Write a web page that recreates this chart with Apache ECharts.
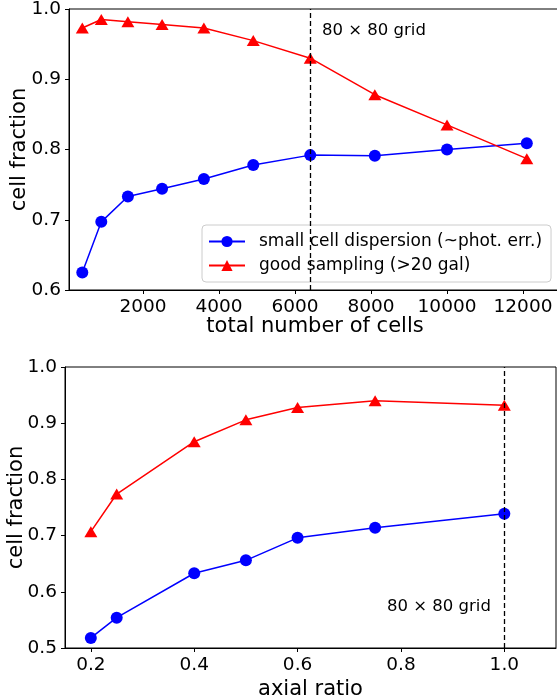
<!DOCTYPE html>
<html><head><meta charset="utf-8">
<script src="https://cdn.jsdelivr.net/npm/echarts@6/dist/echarts.min.js"></script>
<style>html,body{margin:0;padding:0;background:#fff}#c{width:557px;height:700px}</style>
</head><body><div id="c"></div>
<script>
// Top panel data
const cellsX = [400, 900, 1600, 2500, 3600, 4900, 6400, 8100, 10000, 12100];
const cellsDispersion = [0.625, 0.697, 0.733, 0.744, 0.758, 0.778, 0.792, 0.791, 0.800, 0.809];
const cellsSampling = [0.973, 0.985, 0.982, 0.978, 0.973, 0.955, 0.930, 0.878, 0.835, 0.787];
const cellsTicks = [2000, 4000, 6000, 8000, 10000, 12000];
const cellsGridLine = 6400;
// Bottom panel data
const ratioX = [0.2, 0.25, 0.4, 0.5, 0.6, 0.75, 1.0];
const ratioDispersion = [0.518, 0.554, 0.633, 0.656, 0.696, 0.714, 0.739];
const ratioSampling = [0.707, 0.774, 0.867, 0.906, 0.928, 0.940, 0.932];
const ratioTicks = [0.2, 0.4, 0.6, 0.8, 1.0];
const ratioGridLine = 1.0;
const seriesNames = ['small cell dispersion (~phot. err.)', 'good sampling (>20 gal)'];
const gridLabel = '80 × 80 grid';

const FONT = 'DejaVu Sans';
const chart = echarts.init(document.getElementById('c'), null, {renderer: 'canvas'});
const zip = (xs, ys) => xs.map((x, i) => [x, ys[i]]);
const axisCommon = {
  axisLine: {show: true, onZero: false, lineStyle: {color: '#000', width: 1}},
  axisTick: {show: true, length: 4, lineStyle: {color: '#000', width: 1}},
  splitLine: {show: false},
  nameMoveOverlap: false,
  nameTextStyle: {color: '#000', fontFamily: FONT, fontSize: 21}
};
const lbl = {color: '#000', fontFamily: FONT, fontSize: 18.5, margin: 8};
const blueSeries = (xi, data) => ({
  type: 'line', name: seriesNames[0], xAxisIndex: xi, yAxisIndex: xi, data: data,
  symbol: 'circle', symbolSize: 12, color: '#0000ff',
  lineStyle: {color: '#0000ff', width: 1.5}, itemStyle: {color: '#0000ff'}, animation: false, z: 3
});
const redSeries = (xi, data) => ({
  type: 'line', name: seriesNames[1], xAxisIndex: xi, yAxisIndex: xi, data: data,
  symbol: 'triangle', symbolSize: [13, 11], color: '#ff0000',
  lineStyle: {color: '#ff0000', width: 1.5}, itemStyle: {color: '#ff0000'}, animation: false, z: 3
});
const vline = (xi, x) => ({
  type: 'line', xAxisIndex: xi, yAxisIndex: xi, data: [], silent: true, animation: false,
  markLine: {symbol: 'none', silent: true, animation: false, label: {show: false},
    lineStyle: {color: '#000', type: [5, 3], width: 1.3}, data: [{xAxis: x}]}
});

chart.setOption({
  animation: false,
  backgroundColor: '#fff',
  grid: [
    {left: 69, top: 9, width: 492, height: 281, show: true, borderColor: '#000', borderWidth: 1,
     backgroundColor: 'transparent', containLabel: false, outerBoundsMode: 'none'},
    {left: 65, top: 367, width: 491, height: 281, show: true, borderColor: '#000', borderWidth: 1,
     backgroundColor: 'transparent', containLabel: false, outerBoundsMode: 'none'}
  ],
  xAxis: [
    Object.assign({}, axisCommon, {gridIndex: 0, type: 'value', min: 50, max: 13000,
      name: 'total number of cells', nameLocation: 'middle', nameGap: 26,
      axisLabel: Object.assign({}, lbl, {customValues: cellsTicks, formatter: v => String(v)}),
      axisTick: Object.assign({}, axisCommon.axisTick, {customValues: cellsTicks})}),
    Object.assign({}, axisCommon, {gridIndex: 1, type: 'value', min: 0.15, max: 1.1,
      name: 'axial ratio', nameLocation: 'middle', nameGap: 31,
      axisLabel: Object.assign({}, lbl, {customValues: ratioTicks, formatter: v => v.toFixed(1)}),
      axisTick: Object.assign({}, axisCommon.axisTick, {customValues: ratioTicks})})
  ],
  yAxis: [
    Object.assign({}, axisCommon, {gridIndex: 0, type: 'value', min: 0.6, max: 1.0, interval: 0.1,
      name: 'cell fraction', nameLocation: 'middle', nameGap: 39,
      axisLabel: Object.assign({}, lbl, {formatter: v => v.toFixed(1)})}),
    Object.assign({}, axisCommon, {gridIndex: 1, type: 'value', min: 0.5, max: 1.0, interval: 0.1,
      name: 'cell fraction', nameLocation: 'middle', nameGap: 38,
      axisLabel: Object.assign({}, lbl, {formatter: v => v.toFixed(1)})})
  ],
  legend: {
    show: true, orient: 'vertical', left: 202, top: 225,
    data: seriesNames,
    backgroundColor: 'rgba(255,255,255,0.8)', borderColor: '#cccccc', borderWidth: 1, borderRadius: 4,
    padding: [8, 9, 8, 6], itemWidth: 36, itemHeight: 14, itemGap: 7,
    textStyle: {color: '#000', fontFamily: FONT, fontSize: 17, padding: [0, 0, 0, 9]}
  },
  graphic: [
    {type: 'text', left: 322, top: 22, style: {text: gridLabel, fill: '#000', font: '16.5px "DejaVu Sans"'}},
    {type: 'text', left: 387, top: 598, style: {text: gridLabel, fill: '#000', font: '16.5px "DejaVu Sans"'}}
  ],
  series: [
    vline(0, cellsGridLine),
    blueSeries(0, zip(cellsX, cellsDispersion)),
    redSeries(0, zip(cellsX, cellsSampling)),
    vline(1, ratioGridLine),
    blueSeries(1, zip(ratioX, ratioDispersion)),
    redSeries(1, zip(ratioX, ratioSampling))
  ]
});
</script></body></html>
